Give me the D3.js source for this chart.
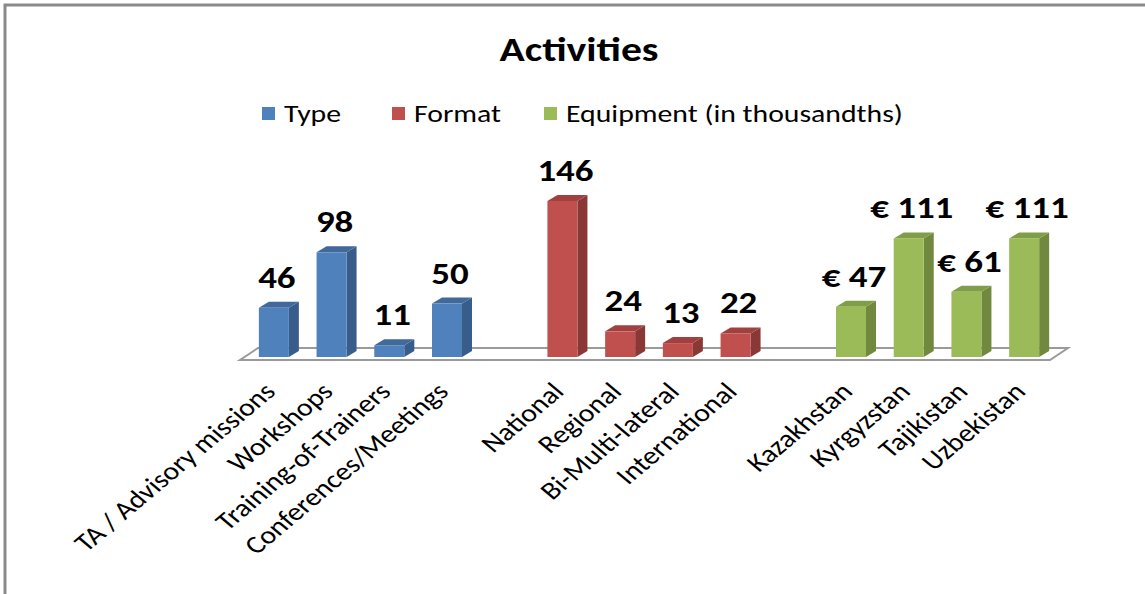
<!DOCTYPE html>
<html><head><meta charset="utf-8">
<script src="https://cdn.jsdelivr.net/npm/d3@7"></script>
<style>
html,body{margin:0;padding:0;background:#fff;}
svg{display:block;font-family:Carlito, Calibri, Lato, "Open Sans", sans-serif;}
</style></head>
<body>
<svg id="chart" width="1145" height="594"></svg>
<script>
// ---- data ----
const typeCategories = ["TA / Advisory missions","Workshops","Training-of-Trainers","Conferences/Meetings"];
const typeValues = [46, 98, 11, 50];
const formatCategories = ["National","Regional","Bi-Multi-lateral","International"];
const formatValues = [146, 24, 13, 22];
const equipmentCategories = ["Kazakhstan","Kyrgyzstan","Tajikistan","Uzbekistan"];
const equipmentValues = [47, 111, 61, 111];
const seriesNames = ["Type","Format","Equipment (in thousandths)"];
const valuePrefixes = ["", "", "€ "];

const colors = [
  {front:"#4F81BD", side:"#385D8A", top:"#41699B"},
  {front:"#C0504D", side:"#8A3836", top:"#A1403E"},
  {front:"#9BBB59", side:"#71893F", top:"#809D47"}
];

const groups = [
  {cats:typeCategories, vals:typeValues},
  {cats:formatCategories, vals:formatValues},
  {cats:equipmentCategories, vals:equipmentValues}
];

// combined domain with a blank slot between groups
const domain = [];
const bars = [];
groups.forEach((g,gi)=>{
  if(gi>0) domain.push("__gap"+gi);
  g.cats.forEach((c,i)=>{ domain.push(c); bars.push({cat:c, v:g.vals[i], s:gi}); });
});

const svg = d3.select("#chart");
const SX = 1.19; // horizontal text stretch

// border
svg.append("rect").attr("x",5).attr("y",5).attr("width",1200).attr("height",700)
  .attr("fill","#fff").attr("stroke","#8a8a8a").attr("stroke-width",3);

const x = d3.scaleBand().domain(domain).range([245,1053]).paddingInner(0.48).paddingOuter(0.24);
const y = d3.scaleLinear().domain([0,146]).range([357,201]);
const DX = 10, DY = -6;       // bar depth
const FDX = 18, FDY = -12;    // floor depth

// floor
const fy = y(0)+3;
const fx0 = x.range()[0]-5, fx1 = x.range()[1]-3;
svg.append("path")
  .attr("d",`M${fx0},${fy} L${fx1},${fy} L${fx1+FDX},${fy+FDY} L${fx0+FDX},${fy+FDY} Z`)
  .attr("fill","#fff").attr("stroke","#9a9a9a").attr("stroke-width",2);

// bars
const bw = x.bandwidth();
const bg = svg.append("g");
bars.forEach(b=>{
  const x0 = x(b.cat), x1 = x0+bw, yt = y(b.v), yb = y(0);
  const c = colors[b.s];
  bg.append("path").attr("d",`M${x1},${yb} L${x1+DX},${yb+DY} L${x1+DX},${yt+DY} L${x1},${yt} Z`).attr("fill",c.side);
  bg.append("path").attr("d",`M${x0},${yt} L${x1},${yt} L${x1+DX},${yt+DY} L${x0+DX},${yt+DY} Z`).attr("fill",c.top);
  bg.append("rect").attr("x",x0).attr("y",yt).attr("width",bw).attr("height",yb-yt).attr("fill",c.front);
});

// value labels
bars.forEach(b=>{
  const cx = x(b.cat)+bw/2+3;
  svg.append("text")
    .attr("transform",`translate(${cx},${y(b.v)-20}) scale(${SX},1)`)
    .attr("text-anchor","middle").attr("font-size",31).attr("font-weight","bold")
    .attr("fill","#000").text(valuePrefixes[b.s]+b.v);
});

// axis labels
bars.forEach(b=>{
  const cx = x(b.cat)+bw/2+3;
  svg.append("text")
    .attr("transform",`translate(${cx},${y(0)+36}) scale(${SX},1) rotate(-45)`)
    .attr("text-anchor","end").attr("font-size",25).attr("fill","#000")
    .text(b.cat);
});

// title
svg.append("text").attr("transform",`translate(579,61) scale(${SX},1)`)
  .attr("text-anchor","middle").attr("font-size",35).attr("font-weight","bold").text("Activities");

// legend
const legX = [262, 392, 544];
seriesNames.forEach((n,i)=>{
  svg.append("rect").attr("x",legX[i]).attr("y",107).attr("width",13).attr("height",13).attr("fill",colors[i].front);
  svg.append("text").attr("transform",`translate(${legX[i]+22},122) scale(${SX},1)`)
    .attr("font-size",25).attr("fill","#000").text(n);
});
</script>
</body></html>
